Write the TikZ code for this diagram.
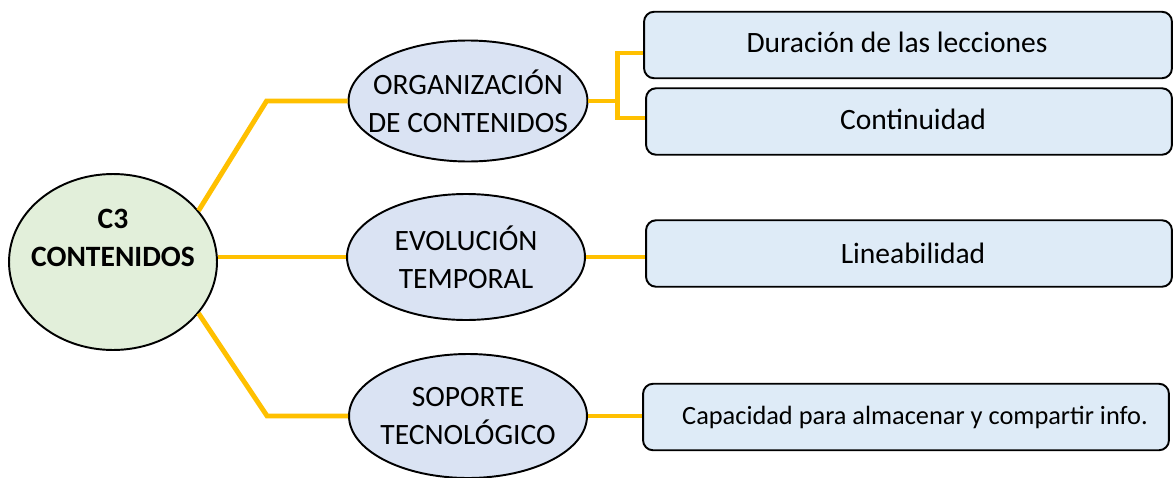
\documentclass[tikz,border=0pt]{standalone}
\usepackage{fontspec}
\setmainfont{Carlito}
\usepackage{tikz}
\usetikzlibrary{shapes.geometric, positioning}
\definecolor{rama}{HTML}{FFC000}
\definecolor{verdec}{HTML}{E2EFDA}
\definecolor{azulel}{HTML}{DAE3F3}
\definecolor{azulbox}{HTML}{DEEBF7}
\newcommand{\lin}[1]{\makebox[0pt]{#1}}

\begin{document}
\begin{tikzpicture}[x=0.02cm, y=-0.02cm,
    tema/.style={ellipse, draw, line width=1.1pt, fill=azulel, inner sep=0pt,
      align=center, font=\fontsize{16.8}{21.5}\selectfont},
    hoja/.style={rectangle, rounded corners=0.2cm, draw, line width=1.1pt, fill=azulbox,
      minimum width=10.52cm, minimum height=1.33cm, font=\fontsize{16.8}{20}\selectfont},
    enlace/.style={draw=rama, line width=2.8pt}]
      \useasboundingbox (0,0) rectangle (1173,477);
      \node[ellipse, draw, line width=1.1pt, fill=verdec, minimum width=4.16cm, minimum height=3.52cm,
        inner sep=0pt, align=center, font=\fontsize{16.8}{21.5}\selectfont\bfseries]
        (main) at (113,262) {\lin{C3}\\\lin{CONTENIDOS}\\[6pt]\mbox{}};
      \node[tema, minimum width=4.78cm, minimum height=2.42cm] (org) at (468,101) {\lin{ORGANIZACIÓN}\\\lin{DE CONTENIDOS}};
      \node[tema, minimum width=4.76cm, minimum height=2.52cm] (evo) at (466,257) {\lin{EVOLUCIÓN}\\\lin{TEMPORAL}};
      \node[tema, minimum width=4.76cm, minimum height=2.48cm] (sop) at (468,416) {\lin{SOPORTE}\\\lin{TECNOLÓGICO}};
      \node[hoja, minimum width=10.56cm] (dur) at (908,45) {\raisebox{3pt}{Duración de las lecciones}\hspace*{0.44cm}};
      \node[hoja] (cont) at (909,121.5) {\hspace*{0.16cm}\raisebox{2pt}{Continuidad}};
      \node[hoja] (lin) at (909,253.5) {\hspace*{0.16cm}Lineabilidad};
      \node[hoja, font=\fontsize{15}{18}\selectfont] (cap) at (906,417) {\hspace*{0.36cm}\raisebox{2pt}{Capacidad para almacenar y compartir info.}};
      \draw[enlace] (main.31) -- ([xshift=-1.62cm]org.west) -- (org.west);
      \draw[enlace] (evo.west -| main.east) -- (evo.west);
      \draw[enlace] (main.-31) -- ([xshift=-1.62cm]sop.west) -- (sop.west);
      \draw[enlace] (org.east) -- ++(0.58cm,0) coordinate (orgk);
      \draw[enlace] ([yshift=-0.16cm]dur.west) -| (orgk) |- ([yshift=0.07cm]cont.west);
      \draw[enlace] (evo.east) -- (evo.east -| lin.west);
      \draw[enlace] (sop.east) -- (sop.east -| cap.west);
    \end{tikzpicture}
\end{document}
